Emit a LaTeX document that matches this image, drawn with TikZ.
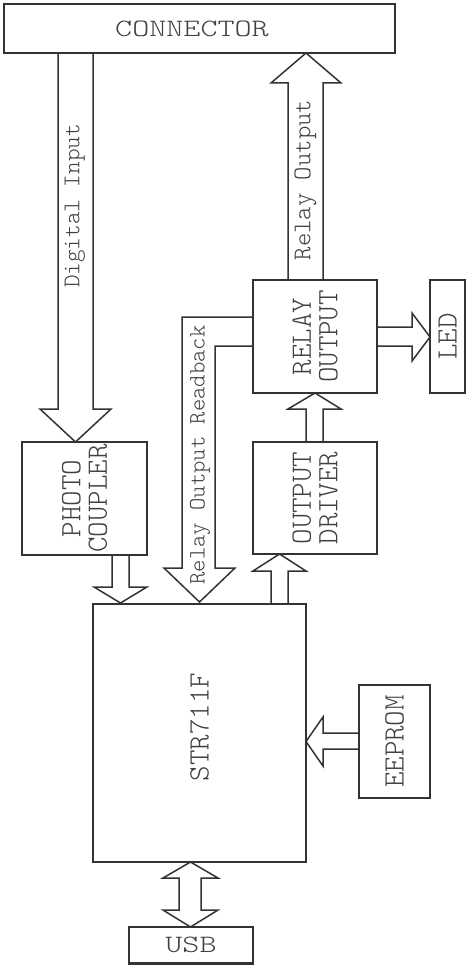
\documentclass[tikz,border=0pt]{standalone}
\usepackage{fontspec}
\usepackage{graphicx}
\newfontfamily\monof{lmmonolt10-regular.otf}
\definecolor{linec}{HTML}{333333}
\definecolor{txtc}{HTML}{404040}
\newcommand\hwide[1]{\scalebox{1.3}[1]{#1}}
\tikzset{
  blk/.style={draw=linec, line width=1.5pt, inner sep=0pt, text=txtc,
    font=\monof\fontsize{29.5}{26.5}\selectfont, align=center},
  rblk/.style={blk, rotate=90},
  arr/.style={draw=linec, line width=1.5pt, line join=miter},
  lbl/.style={rotate=90, inner sep=0pt, text=txtc},
}
\begin{document}
\begin{tikzpicture}[x=1pt,y=-1pt]
\useasboundingbox (0,0) rectangle (469,968);
% boxes
\node[blk, minimum width=391pt, minimum height=49pt, font=\monof\fontsize{25}{26}\selectfont] (conn) at (199.5,28.5) {\hwide{CONNECTOR}\hspace*{15pt}};
\node[rblk, minimum width=113pt, minimum height=125pt] (photo) at (84.5,498.5) {PHOTO\\COUPLER};
\node[rblk, minimum width=258pt, minimum height=213pt] (str) at (199.5,733) {\hspace*{12pt}STR711F};
\node[rblk, minimum width=113pt, minimum height=124pt] (relay) at (315,336.5) {RELAY\\OUTPUT};
\node[rblk, minimum width=113pt, minimum height=35pt] (led) at (447.5,336.5) {LED};
\node[rblk, minimum width=112pt, minimum height=124pt] (driver) at (315,498) {OUTPUT\\DRIVER};
\node[rblk, minimum width=113pt, minimum height=71pt] (eeprom) at (394.5,741.5) {EEPROM};
\node[blk, minimum width=124pt, minimum height=36pt, font=\monof\fontsize{25}{26}\selectfont] (usb) at (191,945) {\hwide{USB}};
\draw[linec, line width=3pt] (usb.south west) -- (usb.south east);
% arrows
\draw[arr] (58,53) -- (58,409) -- (40,409) -- (75.5,442) -- (111,409) -- (93,409) -- (93,53);
\draw[arr] (112,555) -- (112,587) -- (94,587) -- (120.5,603) -- (147,587) -- (129,587) -- (129,555);
\draw[arr] (253,317) -- (182,317) -- (182,568) -- (164,568) -- (199.5,602) -- (235,568) -- (215,568) -- (215,346) -- (253,346);
\draw[arr] (288,280) -- (288,83) -- (271,83) -- (306,53) -- (341,83) -- (323,83) -- (323,280);
\draw[arr] (377,327) -- (412,327) -- (412,313) -- (430,337) -- (412,361) -- (412,346) -- (377,346);
\draw[arr] (306,442) -- (306,409) -- (288,409) -- (315,393) -- (341,409) -- (323,409) -- (323,442);
\draw[arr] (271,604) -- (271,571) -- (253,571) -- (279.5,554) -- (306,571) -- (288,571) -- (288,604);
\draw[arr] (359,733) -- (323,733) -- (323,717) -- (306,741.5) -- (323,766) -- (323,749) -- (359,749);
\draw[arr] (190.5,862) -- (218,878) -- (201,878) -- (201,910) -- (218,910) -- (190.5,927) -- (163,910) -- (179,910) -- (179,878) -- (163,878) -- cycle;
% labels
\node[lbl, font=\monof\fontsize{24}{24}\selectfont] (dlab) at (75,206) {Digital Input};
\node[lbl, font=\monof\fontsize{25.5}{26}\selectfont] (rolab) at (305.5,180) {Relay Output};
\node[lbl, font=\monof\fontsize{23.5}{24}\selectfont] (rblab) at (200,455) {Relay Output Readback};
\end{tikzpicture}
\end{document}
